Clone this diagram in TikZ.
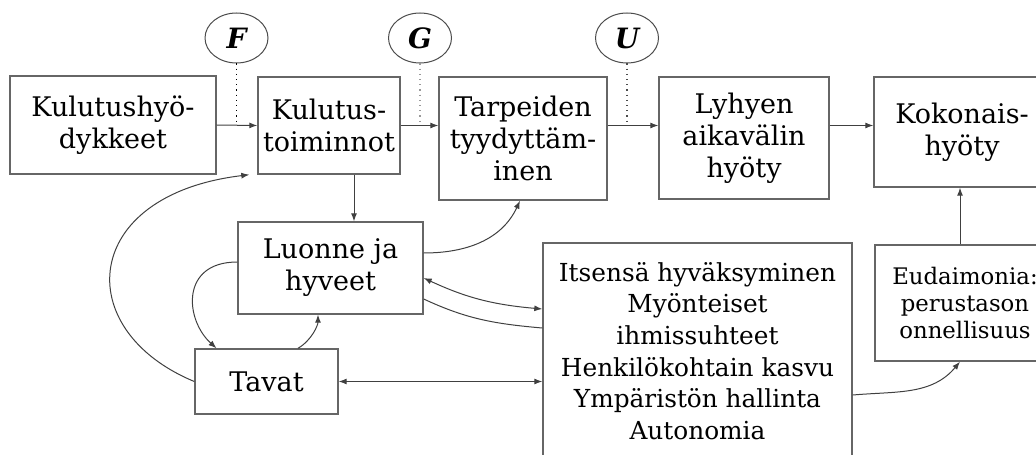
\documentclass[tikz,border=0pt]{standalone}
\usepackage{fontspec}
\setmainfont{DejaVu Serif}
\usetikzlibrary{arrows.meta,shapes.geometric,calc}

\begin{document}
\begin{tikzpicture}[x=0.5pt,y=0.5pt,
    box/.style={draw=black!60,line width=0.7pt,align=center,inner sep=2pt,
      font=\fontsize{13.5}{16}\selectfont},
    var/.style={ellipse,draw=black!70,line width=0.5pt,minimum width=31.5pt,
      minimum height=25pt,inner sep=0pt,font=\fontsize{14}{16}\selectfont\bfseries\itshape},
    arr/.style={-{Latex[length=4pt,width=3pt]},draw=black!75,line width=0.5pt},
    both/.style={{Latex[length=4pt,width=3pt]}-{Latex[length=4pt,width=3pt]},
      draw=black!75,line width=0.5pt},
    ln/.style={draw=black!75,line width=0.5pt}]
  \useasboundingbox (0,0) rectangle (1036,-454);
  \clip (0,0) rectangle (1036,-454);

  % top row
  \node[box,minimum width=103pt,minimum height=49pt] (kh) at (113,-125) {Kulutushyö-\\dykkeet};
  \node[box,minimum width=71pt,minimum height=48.5pt] (kt) at (329,-125.5) {Kulutus-\\toiminnot};
  \node[box,minimum width=84pt,minimum height=61.5pt] (tt) at (523,-138.5) {Tarpeiden\\tyydyttäm-\\inen};
  \node[box,minimum width=85pt,minimum height=61pt] (lah) at (744,-138) {Lyhyen\\aikavälin\\hyöty};
  \node[box,minimum width=88pt,minimum height=55pt] (kok) at (962,-132) {Kokonais-\\hyöty};

  \node[var] (cF) at (236.5,-38) {F};
  \node[var] (cG) at (420,-38) {G};
  \node[var] (cU) at (627,-38) {U};

  % lower part
  \node[box,minimum width=92.5pt,minimum height=46pt] (lj) at (330.5,-268) {Luonne ja\\hyveet};
  \node[box,minimum width=71.5pt,minimum height=32.5pt] (tav) at (266.5,-381.5) {Tavat};
  \node[box,minimum width=154.5pt,minimum height=108pt,font=\fontsize{12.4}{15.8}\selectfont] (big) at (697.5,-351)
    {Itsensä hyväksyminen\\Myönteiset\\ihmissuhteet\\Henkilökohtain kasvu\\Ympäristön hallinta\\Autonomia};
  \node[box,minimum width=90pt,minimum height=58pt,font=\fontsize{11.4}{13.5}\selectfont] (eud) at (965,-303)
    {Eudaimonia:\\perustason\\onnellisuus};

  % main chain
  \draw[arr] (kh.east) -- (kt.west);
  \draw[arr] (kt.east) -- (kt.east -| tt.west);
  \draw[arr] (tt.east |- kt.east) -- (lah.west |- kt.east);
  \draw[arr] (lah.east |- kt.east) -- (kok.west |- kt.east);
  \draw[dotted,line width=0.6pt] (cF.south) -- (cF.south |- kh.east);
  \draw[dotted,line width=0.6pt,black!40] (cG.south) -- (cG.south |- kt.east);
  \draw[dotted,line width=0.6pt,black!70] (cU.south) -- (cU.south |- kt.east);

  \coordinate (kd) at ($(kt.south)+(25,0)$);
  \draw[arr] (kd) -- (kd |- lj.north);
  \draw[arr] ($(lj.east)+(0,15)$) to[out=0,in=-115] ($(tt.south)+(-3,0)$);
  \draw[both] ($(lj.east)+(0,-10)$) to[out=-25,in=175] ($(big.west)+(0,42)$);
  \draw[ln] ($(lj.east)+(0,-31)$) to[out=-25,in=175] ($(big.west)+(0,23)$);
  \draw[both] (tav.east) -- (tav.east -| big.west);

  % feedback loops
  \draw[arr] (tav.west) .. controls (70,-330) and (80,-195) .. ($(kt.south west)+(-8,0)$);
  \draw[arr] ($(lj.west)+(0,6)$) .. controls (180,-262) and (185,-320) .. ($(tav.north)+(-50,0)$);
  \draw[arr] ($(tav.north)+(31.5,0)$) .. controls (312,-340) and (318,-325) .. ($(lj.south)+(-12.5,0)$);

  % to eudaimonia
  \coordinate (ed) at ($(eud.south)+(-5,0)$);
  \draw[arr] ($(big.east)+(0,-44)$) to[out=5,in=-130] (ed);
  \draw[arr] (ed |- eud.north) -- (ed |- kok.south);
\end{tikzpicture}
\end{document}
